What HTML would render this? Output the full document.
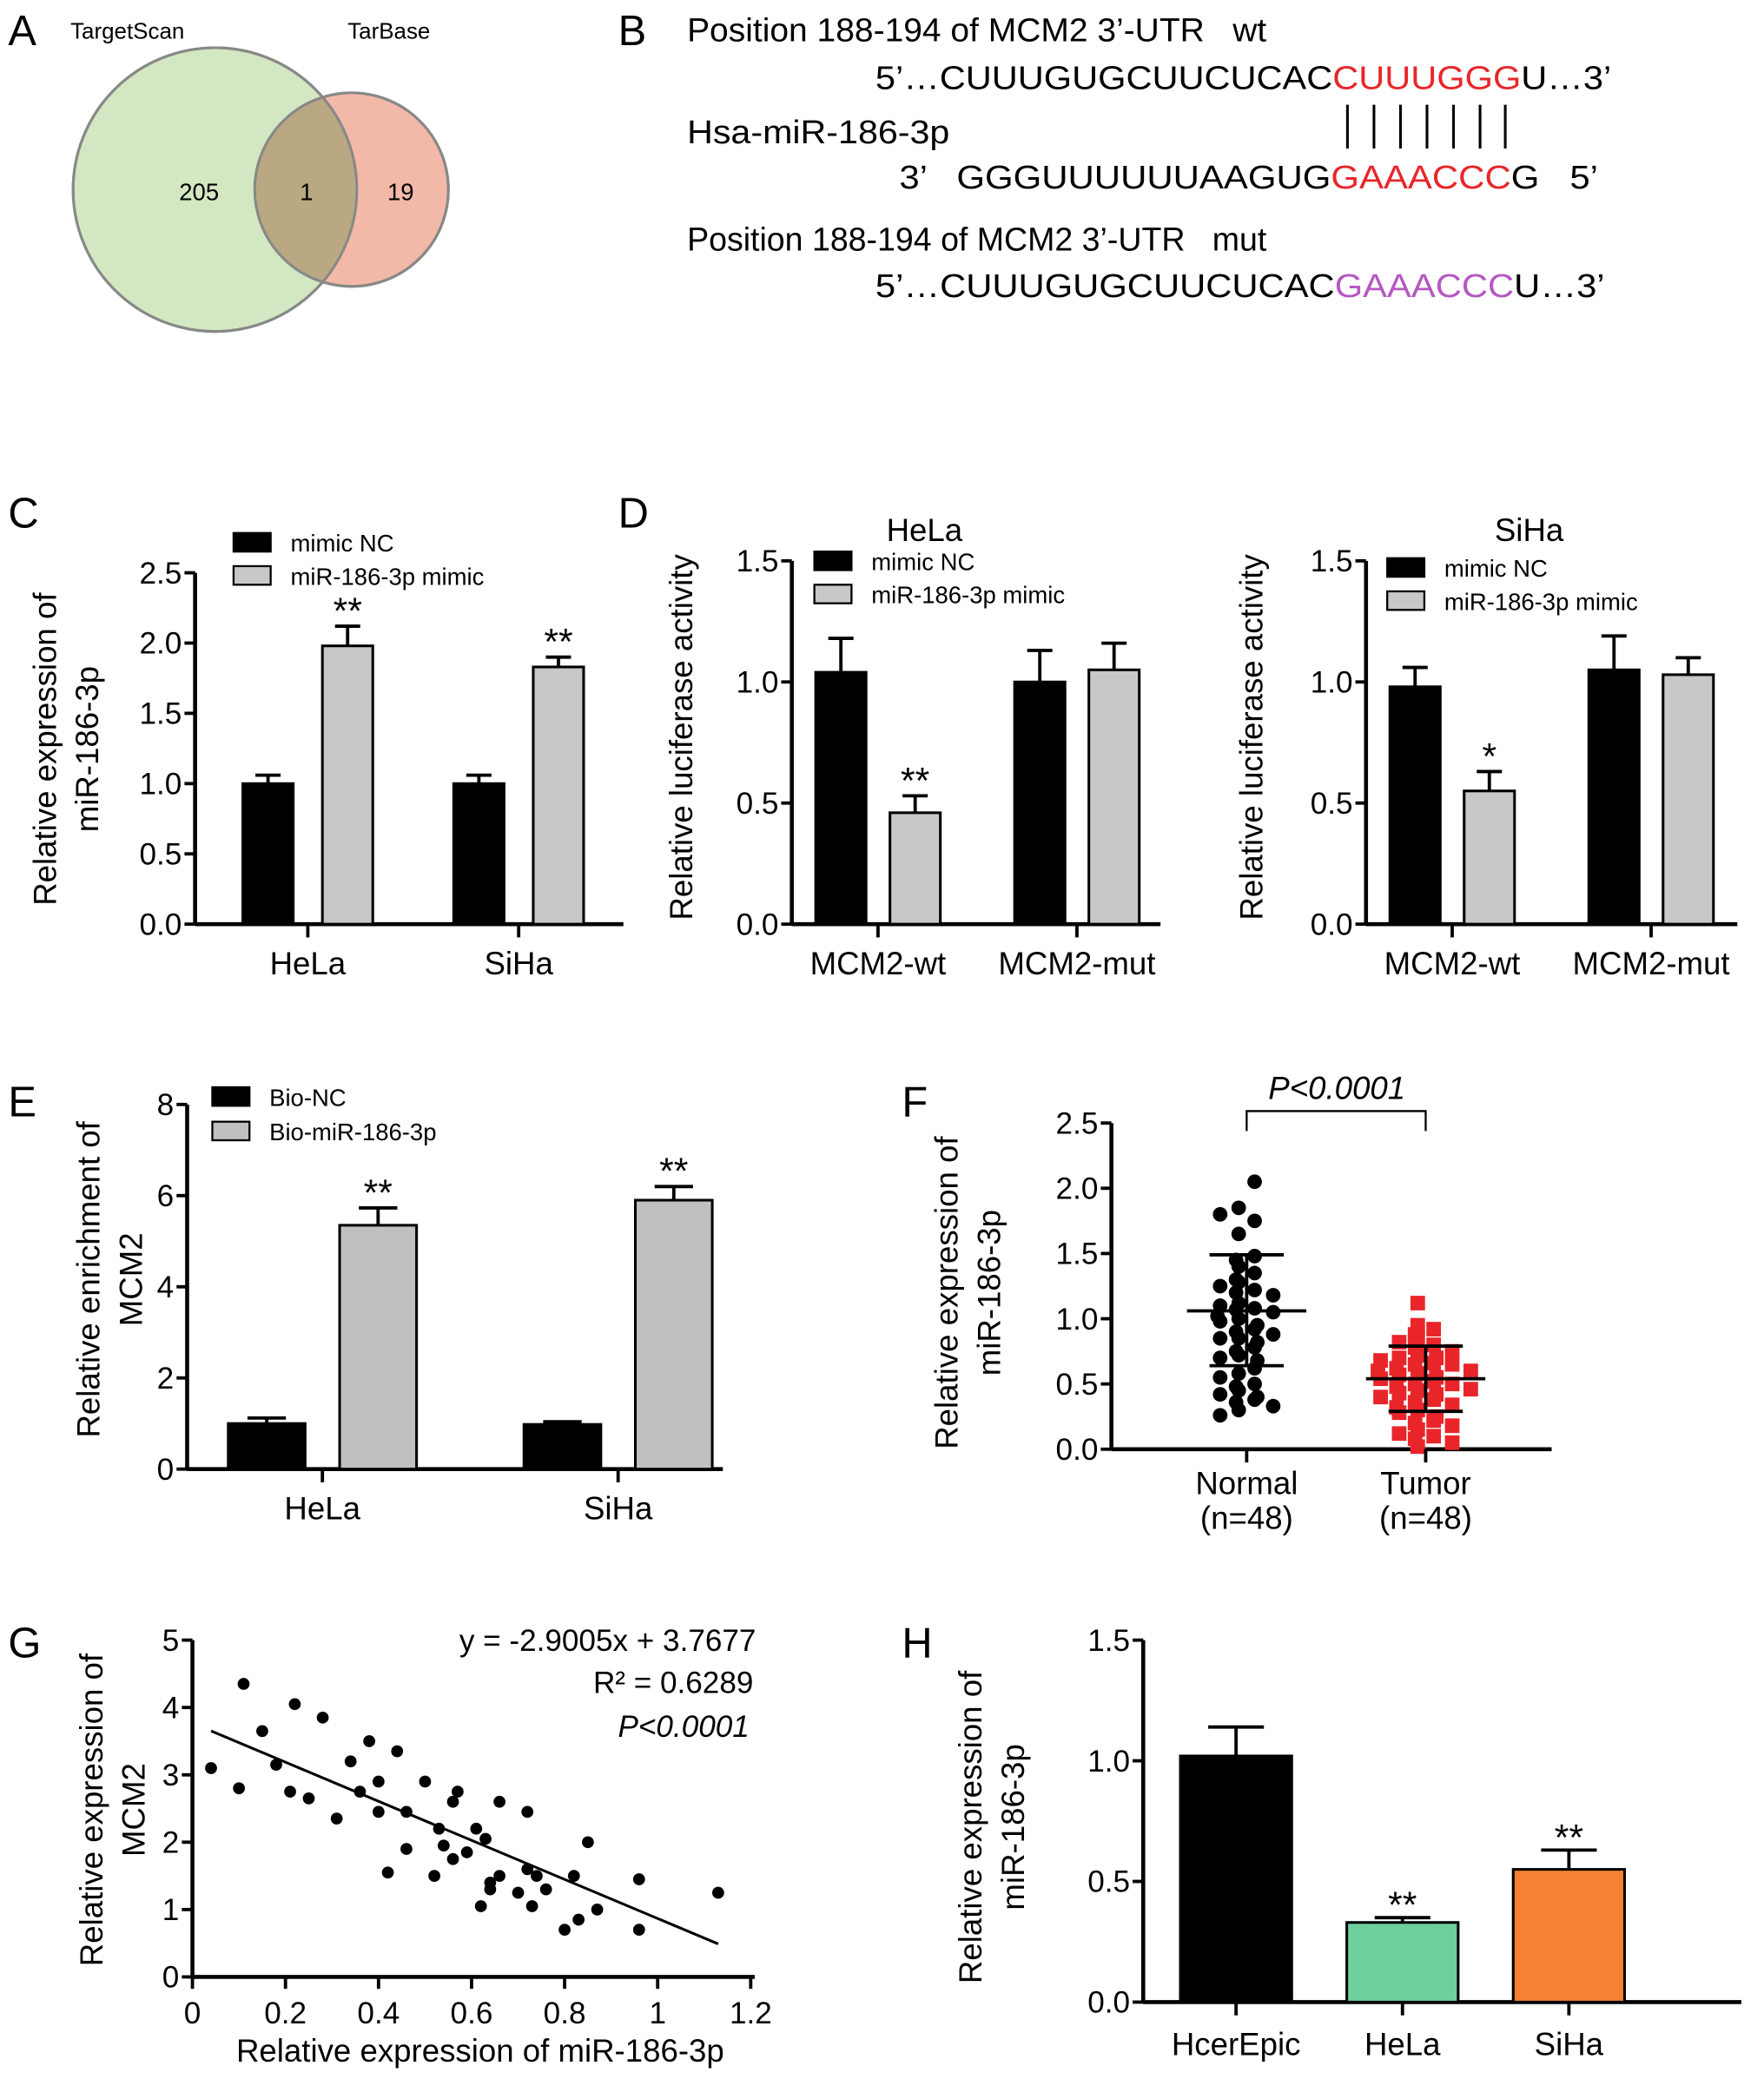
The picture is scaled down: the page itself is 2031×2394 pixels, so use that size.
<!DOCTYPE html>
<html><head><meta charset="utf-8"><style>
html,body{margin:0;padding:0;background:#fff;}
svg{display:block;font-family:"Liberation Sans",Arial,sans-serif;}
</style></head><body>
<svg id="fig" width="2031" height="2394" viewBox="0 0 1330 1568" xmlns="http://www.w3.org/2000/svg">
<defs><clipPath id="gclip"><circle cx="162" cy="143" r="107"/></clipPath></defs>
<!-- Panel A -->
<g>
<text x="6" y="34" font-size="32">A</text>
<text x="53" y="29" font-size="17">TargetScan</text>
<text x="262" y="29" font-size="17">TarBase</text>
<circle cx="162" cy="143" r="107" fill="#d3e8c2" stroke="#888" stroke-width="2"/>
<circle cx="265" cy="143" r="73" fill="#f3b9a8" stroke="#888" stroke-width="2"/>
<circle cx="265" cy="143" r="73" fill="#b9a882" clip-path="url(#gclip)"/>
<circle cx="162" cy="143" r="107" fill="none" stroke="#888" stroke-width="2"/>
<circle cx="265" cy="143" r="73" fill="none" stroke="#888" stroke-width="2"/>
<text x="150" y="151" font-size="18" text-anchor="middle">205</text>
<text x="231" y="151" font-size="18" text-anchor="middle">1</text>
<text x="302" y="151" font-size="18" text-anchor="middle">19</text>
</g>
<!-- Panel B -->
<g font-size="25">
<text x="466" y="34" font-size="32">B</text>
<text x="518" y="31" textLength="437" lengthAdjust="spacingAndGlyphs" xml:space="preserve">Position 188-194 of MCM2 3’-UTR   wt</text>
<text x="660" y="67" textLength="555" lengthAdjust="spacingAndGlyphs">5’…CUUUGUGCUUCUCAC<tspan fill="#e8262a">CUUUGGG</tspan>U…3’</text>
<text x="518" y="108" textLength="198" lengthAdjust="spacingAndGlyphs">Hsa-miR-186-3p</text>
<g stroke="#000" stroke-width="2">
<line x1="1016" y1="79" x2="1016" y2="112"/><line x1="1036" y1="79" x2="1036" y2="112"/><line x1="1056" y1="79" x2="1056" y2="112"/><line x1="1076" y1="79" x2="1076" y2="112"/><line x1="1096" y1="79" x2="1096" y2="112"/><line x1="1116" y1="79" x2="1116" y2="112"/><line x1="1135" y1="79" x2="1135" y2="112"/>
</g>
<text x="678" y="142" textLength="527" lengthAdjust="spacingAndGlyphs" xml:space="preserve">3’   GGGUUUUUUAAGUG<tspan fill="#e8262a">GAAACCC</tspan>G   5’</text>
<text x="518" y="189" textLength="437" lengthAdjust="spacingAndGlyphs" xml:space="preserve">Position 188-194 of MCM2 3’-UTR   mut</text>
<text x="660" y="224" textLength="550" lengthAdjust="spacingAndGlyphs">5’…CUUUGUGCUUCUCAC<tspan fill="#b657c2">GAAACCC</tspan>U…3’</text>
</g>
<g id="charts"></g>
</svg>
<script>
const NS="http://www.w3.org/2000/svg";
const root=document.getElementById('charts');
function mk(tag,attrs,parent){const e=document.createElementNS(NS,tag);for(const k in attrs)e.setAttribute(k,attrs[k]);(parent||root).appendChild(e);return e;}
function txt(x,y,s,size,parent,extra){const e=mk('text',Object.assign({x:x,y:y,'font-size':size},extra||{}),parent);e.textContent=s;return e;}

// ---- data ----
const cCats=["HeLa","SiHa"];
const cNC=[1.0,1.0], cNCerr=[0.06,0.06];
const cMimic=[1.98,1.83], cMimicErr=[0.14,0.07];
const cSig=["**","**"];
const cTicks=["0.0","0.5","1.0","1.5","2.0","2.5"];

const dCats=["MCM2-wt","MCM2-mut"];
const dHelaNC=[1.04,1.0], dHelaNCerr=[0.14,0.13];
const dHelaMimic=[0.46,1.05], dHelaMimicErr=[0.07,0.11];
const dHelaSig=["**",""];
const dSihaNC=[0.98,1.05], dSihaNCerr=[0.08,0.14];
const dSihaMimic=[0.55,1.03], dSihaMimicErr=[0.08,0.07];
const dSihaSig=["*",""];
const dTicks=["0.0","0.5","1.0","1.5"];

const eCats=["HeLa","SiHa"];
const eNC=[1.0,0.98], eNCerr=[0.12,0.06];
const eBio=[5.35,5.9], eBioErr=[0.38,0.3];
const eSig=["**","**"];
const eTicks=["0","2","4","6","8"];

const fNormal=[2.05,1.85,1.80,1.75,1.65,1.48,1.45,1.40,1.35,1.30,1.28,1.25,1.22,1.20,1.18,1.12,1.10,1.08,1.07,1.05,1.02,1.00,0.98,0.95,0.92,0.90,0.88,0.85,0.82,0.78,0.75,0.72,0.70,0.68,0.62,0.58,0.55,0.50,0.48,0.45,0.42,0.40,0.38,0.36,0.33,0.30,0.26,0.85];
const fTumor=[1.12,0.95,0.92,0.88,0.85,0.82,0.80,0.78,0.75,0.72,0.70,0.68,0.66,0.65,0.62,0.60,0.58,0.57,0.55,0.54,0.52,0.50,0.48,0.46,0.45,0.43,0.40,0.38,0.36,0.34,0.32,0.30,0.28,0.25,0.22,0.20,0.18,0.15,0.12,0.10,0.08,0.05,0.02,0.60,0.50,0.42,0.65,0.70];
const fMean=[1.06,0.54], fSDhi=[1.49,0.79], fSDlo=[0.64,0.29];
const fCats=["Normal","Tumor"];
const fTicks=["0.0","0.5","1.0","1.5","2.0","2.5"];

const gX=[0.04,0.10,0.11,0.15,0.18,0.21,0.22,0.25,0.28,0.31,0.34,0.36,0.38,0.40,0.40,0.42,0.44,0.46,0.46,0.50,0.52,0.53,0.54,0.56,0.56,0.57,0.59,0.61,0.62,0.63,0.64,0.64,0.66,0.66,0.70,0.72,0.72,0.73,0.74,0.76,0.80,0.82,0.83,0.85,0.87,0.96,0.96,1.13];
const gY=[3.1,2.8,4.35,3.65,3.15,2.75,4.05,2.65,3.85,2.35,3.2,2.75,3.5,2.9,2.45,1.55,3.35,1.9,2.45,2.9,1.5,2.2,1.95,2.6,1.75,2.75,1.85,2.2,1.05,2.05,1.3,1.4,2.6,1.5,1.25,1.6,2.45,1.05,1.5,1.3,0.7,1.5,0.85,2.0,1.0,1.45,0.7,1.25];
const gSlope=-2.9005, gIntercept=3.7677;
const gXTicks=["0","0.2","0.4","0.6","0.8","1","1.2"];
const gYTicks=["0","1","2","3","4","5"];

const hCats=["HcerEpic","HeLa","SiHa"];
const hVals=[1.02,0.33,0.55], hErr=[0.12,0.02,0.08];
const hSig=["","**","**"];
const hColors=["#000000","#6ecf9f","#f58232"];
const hTicks=["0.0","0.5","1.0","1.5"];

// ---- helpers ----
function axes(g,x0,y0,yTop,xEnd,ticks,tickVals,yScale,fs){
  mk('line',{x1:x0,y1:y0,x2:xEnd,y2:y0,stroke:'#000','stroke-width':3},g);
  mk('line',{x1:x0,y1:y0+1,x2:x0,y2:yTop,stroke:'#000','stroke-width':3},g);
  ticks.forEach((t,i)=>{const y=yScale(tickVals[i]);
    mk('line',{x1:x0-8,y1:y,x2:x0,y2:y,stroke:'#000','stroke-width':2.5},g);
    const tl=txt(x0-10,y+8,t,fs||23,g,{'text-anchor':'end'});
    
    
  });
}
function bar(g,cx,w,v,err,fill,yScale,y0,name){
  const y=yScale(v);
  const r=mk('rect',{x:cx-w/2,y:y,width:w,height:y0-y,fill:fill,stroke:'#000','stroke-width':2},g);
  
  
  const ye=yScale(v+err);
  const e=mk('path',{d:`M${cx},${y} V${ye} M${cx-w/4},${ye} H${cx+w/4}`,stroke:'#000','stroke-width':2.5,fill:'none'},g);
  
  
  return ye;
}
function ytitle(g,x,y,lines,fs){
  lines.forEach((l,i)=>{const t=txt(0,0,l,fs||24,g,{'text-anchor':'middle',transform:`translate(${x+i*32},${y}) rotate(-90)`});
    
    });
}
function legend(g,x,y,labels,fills,gap){
  labels.forEach((l,i)=>{
    const r=mk('rect',{x:x,y:y+i*gap,width:28,height:14,fill:fills[i],stroke:'#000','stroke-width':1.5},g);
    
    
    const t=txt(x+43,y+i*gap+14,l,18,g);
    
    
  });
}
function grouped(name,opt){
  const g=mk('g',{});
  
  
  const ys=v=>opt.y0-(v/opt.max)*(opt.y0-opt.yTop);
  axes(g,opt.x0,opt.y0,opt.yTop,opt.xEnd,opt.ticks,opt.ticks.map(Number),ys);
  opt.cats.forEach((c,i)=>{
    const cx=opt.groupX[0]+i*(opt.groupX[1]-opt.groupX[0]);
    bar(g,cx-opt.off,opt.w,opt.a[i],opt.aErr[i],'#000',ys,opt.y0,'bar-'+opt.series[0]+'-'+c);
    const ye=bar(g,cx+opt.off,opt.w,opt.b[i],opt.bErr[i],opt.bFill,ys,opt.y0,'bar-'+opt.series[1]+'-'+c);
    if(opt.sig[i]){const s=txt(cx+opt.off,ye-2,opt.sig[i],28,g,{'text-anchor':'middle'});
      
      }
    mk('line',{x1:cx,y1:opt.y0,x2:cx,y2:opt.y0+10,stroke:'#000','stroke-width':2.5},g);
    const l=txt(cx,opt.y0+38,c,24,g,{'text-anchor':'middle'});
    
    
  });
  return g;
}

// ---- Panel C ----
let gC=grouped('panel-c-chart',{x0:147,y0:697,yTop:432,xEnd:470,max:2.5,ticks:cTicks,cats:cCats,groupX:[232,391],off:30,w:38,a:cNC,aErr:cNCerr,b:cMimic,bErr:cMimicErr,bFill:'#c8c8c8',sig:cSig,series:['mimic-nc','mimic']});
txt(6,398,'C',32,gC);
ytitle(gC,42,565,['Relative expression of','miR-186-3p']);
legend(gC,176,402,['mimic NC','miR-186-3p mimic'],['#000','#c8c8c8'],25);

// ---- Panel D HeLa ----
let gD1=grouped('panel-d-hela-chart',{x0:597,y0:697,yTop:423,xEnd:875,max:1.5,ticks:dTicks,cats:dCats,groupX:[662,812],off:28,w:38,a:dHelaNC,aErr:dHelaNCerr,b:dHelaMimic,bErr:dHelaMimicErr,bFill:'#c8c8c8',sig:dHelaSig,series:['mimic-nc','mimic']});
txt(466,398,'D',32,gD1);
txt(697,408,'HeLa',24,gD1,{'text-anchor':'middle'});
ytitle(gD1,522,556,['Relative luciferase activity']);
legend(gD1,614,416,['mimic NC','miR-186-3p mimic'],['#000','#c8c8c8'],25);

// ---- Panel D SiHa ----
let gD2=grouped('panel-d-siha-chart',{x0:1030,y0:697,yTop:423,xEnd:1310,max:1.5,ticks:dTicks,cats:dCats,groupX:[1095,1245],off:28,w:38,a:dSihaNC,aErr:dSihaNCerr,b:dSihaMimic,bErr:dSihaMimicErr,bFill:'#c8c8c8',sig:dSihaSig,series:['mimic-nc','mimic']});
txt(1153,408,'SiHa',24,gD2,{'text-anchor':'middle'});
ytitle(gD2,952,556,['Relative luciferase activity']);
legend(gD2,1046,421,['mimic NC','miR-186-3p mimic'],['#000','#c8c8c8'],25);

// ---- Panel E ----
let gE=grouped('panel-e-chart',{x0:141,y0:1108,yTop:833,xEnd:545,max:8,ticks:eTicks,cats:eCats,groupX:[243,466],off:42,w:58,a:eNC,aErr:eNCerr,b:eBio,bErr:eBioErr,bFill:'#c0c0c0',sig:eSig,series:['bio-nc','bio-mir']});
txt(6,842,'E',32,gE);
ytitle(gE,75,965,['Relative enrichment of','MCM2']);
legend(gE,160,820,['Bio-NC','Bio-miR-186-3p'],['#000','#c0c0c0'],26);

// ---- Panel F ----
(function(){
  const g=mk('g',{});
  
  
  const x0=838,y0=1093,yTop=847,max=2.5;
  const ys=v=>y0-(v/max)*(y0-yTop);
  axes(g,x0,y0,yTop,1170,fTicks,fTicks.map(Number),ys);
  txt(680,842,'F',32,g);
  ytitle(g,722,975,['Relative expression of','miR-186-3p']);
  const cx=[940,1075];
  [fNormal,fTumor].forEach((arr,k)=>{
    const sorted=arr.map((v,i)=>[v,i]).sort((a,b)=>b[0]-a[0]);
    const rowCount={};
    sorted.forEach(([v],j)=>{
      const bin=Math.round(v/0.07);
      const n=rowCount[bin]=(rowCount[bin]||0)+1;
      const side=(n%2?1:-1)*Math.floor(n/2);
      const x=cx[k]+side*14+((bin%2)?6:-6);
      const y=ys(v);
      let m;
      if(k===0) m=mk('circle',{cx:x,cy:y,r:5.5,fill:'#000'},g);
      else m=mk('rect',{x:x-5.5,y:y-5.5,width:11,height:11,fill:'#e8262a'},g);
      
      
    });
    const e=mk('path',{d:`M${cx[k]-45},${ys(fMean[k])} H${cx[k]+45} M${cx[k]-28},${ys(fSDhi[k])} H${cx[k]+28} M${cx[k]-28},${ys(fSDlo[k])} H${cx[k]+28} M${cx[k]},${ys(fSDhi[k])} V${ys(fSDlo[k])}`,stroke:'#000','stroke-width':2.5,fill:'none'},g);
    
    
    mk('line',{x1:cx[k],y1:y0,x2:cx[k],y2:y0+10,stroke:'#000','stroke-width':2.5},g);
    const l1=txt(cx[k],y0+34,fCats[k],24,g,{'text-anchor':'middle'});
    
    const l2=txt(cx[k],y0+60,'(n=48)',24,g,{'text-anchor':'middle'});
    
  });
  const br=mk('path',{d:`M${cx[0]},853 V838 H${cx[1]} V853`,stroke:'#000','stroke-width':1.5,fill:'none'},g);
  
  
  const p=txt(1008,829,'P<0.0001',24,g,{'text-anchor':'middle','font-style':'italic'});
  
  
})();

// ---- Panel G ----
(function(){
  const g=mk('g',{});
  
  
  const x0=145,y0=1491,yTop=1237,xMax=1.2,yMax=5,xR=566;
  const ys=v=>y0-(v/yMax)*(y0-yTop);
  const xs=v=>x0+(v/xMax)*(xR-x0);
  axes(g,x0,y0,yTop,xR+3,gYTicks,gYTicks.map(Number),ys);
  gXTicks.forEach(t=>{const x=xs(Number(t));
    mk('line',{x1:x,y1:y0,x2:x,y2:y0+9,stroke:'#000','stroke-width':2.5},g);
    const l=txt(x,y0+35,t,23,g,{'text-anchor':'middle'});
    
    
  });
  txt(6,1250,'G',32,g);
  ytitle(g,77,1365,['Relative expression of','MCM2']);
  const xt=txt(362,1555,'Relative expression of miR-186-3p',24,g,{'text-anchor':'middle'});
  
  
  gX.forEach((v,i)=>{const c=mk('circle',{cx:xs(v),cy:ys(gY[i]),r:4.5,fill:'#000'},g);
    
    });
  const xa=Math.min(...gX),xb=Math.max(...gX);
  const ln=mk('line',{x1:xs(xa),y1:ys(gSlope*xa+gIntercept),x2:xs(xb),y2:ys(gSlope*xb+gIntercept),stroke:'#000','stroke-width':2},g);
  
  
  const e1=txt(570,1245,'y = -2.9005x + 3.7677',23,g,{'text-anchor':'end'});
  
  const e2=txt(568,1277,'R² = 0.6289',23,g,{'text-anchor':'end'});
  
  const e3=txt(565,1310,'P<0.0001',23,g,{'text-anchor':'end','font-style':'italic'});
  
})();

// ---- Panel H ----
(function(){
  const g=mk('g',{});
  
  
  const x0=862,y0=1510,yTop=1237,max=1.5;
  const ys=v=>y0-(v/max)*(y0-yTop);
  axes(g,x0,y0,yTop,1313,hTicks,hTicks.map(Number),ys);
  txt(680,1250,'H',32,g);
  ytitle(g,740,1378,['Relative expression of','miR-186-3p']);
  const cx0=932,step=125.5;
  hCats.forEach((c,i)=>{
    const cx=cx0+i*step;
    const ye=bar(g,cx,84,hVals[i],hErr[i],hColors[i],ys,y0,'bar-'+c);
    if(hSig[i]){const s=txt(cx,ye,hSig[i],28,g,{'text-anchor':'middle'});
      
      }
    mk('line',{x1:cx,y1:y0,x2:cx,y2:y0+10,stroke:'#000','stroke-width':2.5},g);
    const l=txt(cx,y0+40,c,24,g,{'text-anchor':'middle'});
    
    
  });
})();
</script>
</body></html>
